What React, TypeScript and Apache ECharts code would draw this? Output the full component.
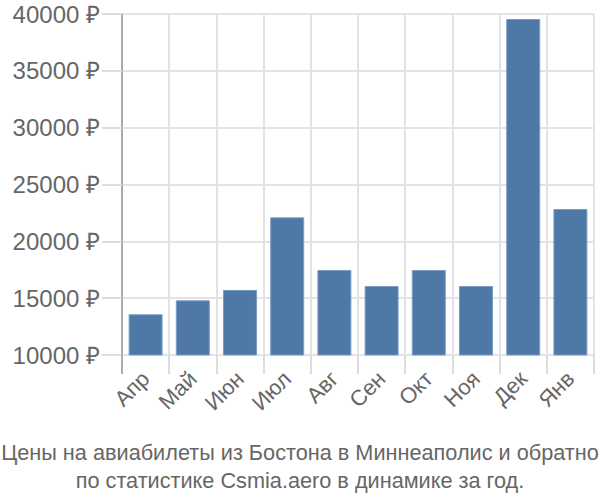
import React, { useEffect, useRef } from "react";
import * as echarts from "echarts";

const categories = ["Апр", "Май", "Июн", "Июл", "Авг", "Сен", "Окт", "Ноя", "Дек", "Янв"];
const prices = [13580, 14810, 15720, 22110, 17480, 16070, 17480, 16070, 39560, 22840];
const titleLines = [
  "Цены на авиабилеты из Бостона в Миннеаполис и обратно",
  "по статистике Csmia.aero в динамике за год.",
];

export default function App() {
  const ref = useRef<HTMLDivElement>(null);
  useEffect(() => {
    if (!ref.current) return;
    const chart = echarts.init(ref.current, null, { renderer: "svg" });
    const font = "Liberation Sans, Arial, sans-serif";
    chart.setOption({
      animation: false,
      textStyle: { fontFamily: font },
      title: {
        text: titleLines.join("\n"),
        left: "center",
        top: 433,
        textStyle: {
          fontFamily: font,
          fontSize: 21.7,
          fontWeight: "normal",
          color: "#666",
          lineHeight: 28,
        },
      },
      grid: { left: 122, right: 6, top: 14, bottom: 145, containLabel: false },
      xAxis: {
        type: "category",
        data: categories,
        axisLine: { show: false },
        axisTick: { show: true, length: 19, lineStyle: { color: "#ddd", width: 2 } },
        splitLine: { show: true, lineStyle: { color: "#e3e3e3", width: 2 } },
        axisLabel: {
          rotate: 45,
          fontSize: 22,
          color: "#666",
          fontFamily: font,
          margin: 20,
        },
      },
      yAxis: {
        type: "value",
        min: 10000,
        max: 40000,
        interval: 5000,
        axisLine: { show: true, lineStyle: { color: "#aaa", width: 2 } },
        axisTick: { show: true, length: 20, lineStyle: { color: "#ddd", width: 2 } },
        splitLine: { show: true, lineStyle: { color: "#e3e3e3", width: 2 } },
        axisLabel: {
          formatter: (v: number) => v + " ₽",
          fontSize: 24,
          color: "#666",
          fontFamily: font,
          margin: 22,
        },
      },
      graphic: [
        {
          type: "line",
          shape: { x1: 122, y1: 355, x2: 122, y2: 374 },
          style: { stroke: "#aaa", lineWidth: 2 },
          z: 10,
        },
      ],
      series: [
        {
          type: "bar",
          data: prices,
          barWidth: "72%",
          itemStyle: { color: "#4e79a7", borderColor: "#7a9cc2", borderWidth: 1 },
        },
      ],
    });
    return () => chart.dispose();
  }, []);
  return (
    <div
      ref={ref}
      style={{ position: "absolute", left: 0, top: 0, width: 600, height: 500 }}
    />
  );
}
